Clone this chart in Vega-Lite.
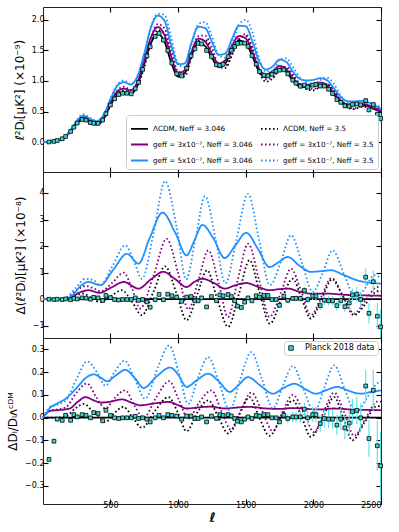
{
"$schema": "https://vega.github.io/schema/vega-lite/v6.json",
"padding": {"left": 6, "top": 5, "right": 5, "bottom": 5},
"spacing": 0,
"bounds": "flush",
"config": {
  "font": "DejaVu Sans",
  "view": {"stroke": "#222", "strokeWidth": 1},
  "axis": {"grid": false, "domain": false, "tickSize": -5, "tickColor": "#000", "tickWidth": 1.1, "labelFontSize": 8, "labelColor": "#000", "labelPadding": 4, "titleFontSize": 12, "titleFontWeight": "normal", "titleColor": "#000", "titlePadding": 5}
},
"resolve": {
  "scale": {"x": "shared", "y": "independent", "color": "shared", "strokeDash": "shared"},
  "axis": {"x": "independent", "y": "independent"},
  "legend": {"color": "independent", "strokeDash": "independent", "fill": "independent"}
},
"datasets": {
  "c1": [
    {"l":2,"a":0,"b":0,"c":0,"d":0,"e":0,"f":0},
    {"l":50,"a":0.003,"b":0.003,"c":0.003,"d":0.003,"e":0.003,"f":0.003},
    {"l":100,"a":0.02,"b":0.02,"c":0.021,"d":0.021,"e":0.021,"f":0.021},
    {"l":150,"a":0.06,"b":0.06,"c":0.062,"d":0.062,"e":0.065,"f":0.064},
    {"l":200,"a":0.16,"b":0.163,"c":0.166,"d":0.171,"e":0.176,"f":0.178},
    {"l":250,"a":0.30,"b":0.312,"c":0.321,"d":0.333,"e":0.339,"f":0.351},
    {"l":300,"a":0.37,"b":0.392,"c":0.402,"d":0.422,"e":0.431,"f":0.457},
    {"l":350,"a":0.32,"b":0.333,"c":0.347,"d":0.362,"e":0.379,"f":0.394},
    {"l":400,"a":0.29,"b":0.294,"c":0.311,"d":0.316,"e":0.344,"f":0.348},
    {"l":450,"a":0.38,"b":0.374,"c":0.405,"d":0.399,"e":0.443,"f":0.437},
    {"l":500,"a":0.60,"b":0.603,"c":0.642,"d":0.639,"e":0.699,"f":0.702},
    {"l":550,"a":0.77,"b":0.789,"c":0.826,"d":0.839,"e":0.916,"f":0.932},
    {"l":600,"a":0.81,"b":0.846,"c":0.875,"d":0.906,"e":0.98,"f":1.008},
    {"l":650,"a":0.79,"b":0.806,"c":0.845,"d":0.853,"e":0.94,"f":0.948},
    {"l":700,"a":0.93,"b":0.916,"c":0.986,"d":0.963,"e":1.079,"f":1.06},
    {"l":750,"a":1.28,"b":1.222,"c":1.349,"d":1.28,"e":1.446,"f":1.389},
    {"l":800,"a":1.62,"b":1.62,"c":1.714,"d":1.701,"e":1.879,"f":1.879},
    {"l":850,"a":1.77,"b":1.832,"c":1.882,"d":1.93,"e":2.07,"f":2.1},
    {"l":900,"a":1.64,"b":1.771,"c":1.75,"d":1.86,"e":1.984,"f":2.08},
    {"l":950,"a":1.30,"b":1.414,"c":1.388,"d":1.50,"e":1.586,"f":1.703},
    {"l":1000,"a":1.07,"b":1.091,"c":1.129,"d":1.156,"e":1.273,"f":1.284},
    {"l":1050,"a":1.13,"b":1.074,"c":1.177,"d":1.141,"e":1.288,"f":1.22},
    {"l":1100,"a":1.42,"b":1.392,"c":1.48,"d":1.463,"e":1.633,"f":1.59},
    {"l":1150,"a":1.62,"b":1.66,"c":1.693,"d":1.733,"e":1.887,"f":1.928},
    {"l":1200,"a":1.57,"b":1.672,"c":1.644,"d":1.743,"e":1.868,"f":1.963},
    {"l":1250,"a":1.38,"b":1.463,"c":1.446,"d":1.546,"e":1.642,"f":1.725},
    {"l":1300,"a":1.23,"b":1.23,"c":1.285,"d":1.267,"e":1.427,"f":1.427},
    {"l":1350,"a":1.29,"b":1.213,"c":1.342,"d":1.251,"e":1.451,"f":1.38},
    {"l":1400,"a":1.52,"b":1.429,"c":1.584,"d":1.444,"e":1.695,"f":1.611},
    {"l":1450,"a":1.66,"b":1.677,"c":1.735,"d":1.71,"e":1.901,"f":1.926},
    {"l":1500,"a":1.62,"b":1.733,"c":1.695,"d":1.766,"e":1.895,"f":2.0},
    {"l":1550,"a":1.40,"b":1.519,"c":1.466,"d":1.547,"e":1.645,"f":1.792},
    {"l":1600,"a":1.15,"b":1.15,"c":1.199,"d":1.19,"e":1.317,"f":1.357},
    {"l":1650,"a":1.06,"b":0.986,"c":1.102,"d":1.028,"e":1.187,"f":1.155},
    {"l":1700,"a":1.12,"b":1.042,"c":1.165,"d":1.053,"e":1.238,"f":1.165},
    {"l":1750,"a":1.20,"b":1.176,"c":1.246,"d":1.2,"e":1.35,"f":1.344},
    {"l":1800,"a":1.15,"b":1.196,"c":1.196,"d":1.231,"e":1.311,"f":1.369},
    {"l":1850,"a":1.00,"b":1.076,"c":1.042,"d":1.1,"e":1.149,"f":1.227},
    {"l":1900,"a":0.91,"b":0.928,"c":0.946,"d":0.956,"e":1.033,"f":1.056},
    {"l":1950,"a":0.90,"b":0.864,"c":0.934,"d":0.90,"e":1.008,"f":0.981},
    {"l":2000,"a":0.92,"b":0.846,"c":0.954,"d":0.869,"e":1.018,"f":0.948},
    {"l":2050,"a":0.94,"b":0.902,"c":0.974,"d":0.931,"e":1.045,"f":1.015},
    {"l":2100,"a":0.90,"b":0.936,"c":0.934,"d":0.954,"e":1.013,"f":1.053},
    {"l":2150,"a":0.78,"b":0.85,"c":0.811,"d":0.866,"e":0.885,"f":0.959},
    {"l":2200,"a":0.66,"b":0.686,"c":0.685,"d":0.70,"e":0.744,"f":0.772},
    {"l":2250,"a":0.60,"b":0.564,"c":0.622,"d":0.588,"e":0.671,"f":0.648},
    {"l":2300,"a":0.60,"b":0.54,"c":0.621,"d":0.552,"e":0.665,"f":0.612},
    {"l":2350,"a":0.61,"b":0.573,"c":0.631,"d":0.586,"e":0.674,"f":0.634},
    {"l":2400,"a":0.59,"b":0.578,"c":0.61,"d":0.59,"e":0.655,"f":0.643},
    {"l":2450,"a":0.54,"b":0.562,"c":0.558,"d":0.572,"e":0.602,"f":0.616},
    {"l":2500,"a":0.49,"b":0.515,"c":0.506,"d":0.524,"e":0.549,"f":0.568}
  ],
  "c2": [
    {"s":"a","l":2,"v":0},{"s":"a","l":2500,"v":0},
    {"s":"b","l":2,"v":0},{"s":"b","l":100,"v":0},{"s":"b","l":169,"v":0.02},{"s":"b","l":240,"v":0.15},{"s":"b","l":300,"v":0.21},{"s":"b","l":360,"v":0.05},{"s":"b","l":420,"v":-0.1},{"s":"b","l":500,"v":0.1},{"s":"b","l":585,"v":0.34},{"s":"b","l":660,"v":-0.1},{"s":"b","l":733,"v":-0.6},{"s":"b","l":820,"v":0.3},{"s":"b","l":904,"v":1.24},{"s":"b","l":990,"v":0.2},{"s":"b","l":1063,"v":-0.79},{"s":"b","l":1140,"v":0.15},{"s":"b","l":1215,"v":1.09},{"s":"b","l":1290,"v":0.0},{"s":"b","l":1370,"v":-1.04},{"s":"b","l":1450,"v":0.2},{"s":"b","l":1529,"v":1.47},{"s":"b","l":1600,"v":0.3},{"s":"b","l":1679,"v":-0.92},{"s":"b","l":1765,"v":0.0},{"s":"b","l":1848,"v":0.77},{"s":"b","l":1915,"v":0.0},{"s":"b","l":1982,"v":-0.73},{"s":"b","l":2060,"v":0.0},{"s":"b","l":2142,"v":0.77},{"s":"b","l":2220,"v":0.1},{"s":"b","l":2301,"v":-0.6},{"s":"b","l":2390,"v":-0.15},{"s":"b","l":2473,"v":0.3},{"s":"b","l":2500,"v":0.3},
    {"s":"c","l":2,"v":0},{"s":"c","l":100,"v":0},{"s":"c","l":200,"v":0.05},{"s":"c","l":270,"v":0.25},{"s":"c","l":340,"v":0.34},{"s":"c","l":420,"v":0.24},{"s":"c","l":510,"v":0.45},{"s":"c","l":598,"v":0.65},{"s":"c","l":708,"v":0.4},{"s":"c","l":800,"v":0.75},{"s":"c","l":892,"v":1.03},{"s":"c","l":980,"v":0.75},{"s":"c","l":1063,"v":0.46},{"s":"c","l":1120,"v":0.65},{"s":"c","l":1180,"v":0.77},{"s":"c","l":1270,"v":0.6},{"s":"c","l":1345,"v":0.4},{"s":"c","l":1420,"v":0.52},{"s":"c","l":1504,"v":0.61},{"s":"c","l":1600,"v":0.45},{"s":"c","l":1676,"v":0.34},{"s":"c","l":1750,"v":0.38},{"s":"c","l":1811,"v":0.4},{"s":"c","l":1900,"v":0.28},{"s":"c","l":1982,"v":0.21},{"s":"c","l":2100,"v":0.21},{"s":"c","l":2250,"v":0.16},{"s":"c","l":2400,"v":0.14},{"s":"c","l":2500,"v":0.13},
    {"s":"d","l":2,"v":0},{"s":"d","l":100,"v":0},{"s":"d","l":169,"v":0.03},{"s":"d","l":240,"v":0.3},{"s":"d","l":316,"v":0.5},{"s":"d","l":380,"v":0.4},{"s":"d","l":430,"v":0.3},{"s":"d","l":510,"v":0.6},{"s":"d","l":598,"v":1.0},{"s":"d","l":660,"v":0.4},{"s":"d","l":720,"v":-0.35},{"s":"d","l":820,"v":0.9},{"s":"d","l":916,"v":2.27},{"s":"d","l":1000,"v":1.0},{"s":"d","l":1076,"v":-0.38},{"s":"d","l":1150,"v":0.7},{"s":"d","l":1224,"v":1.84},{"s":"d","l":1300,"v":0.6},{"s":"d","l":1370,"v":-0.67},{"s":"d","l":1440,"v":0.7},{"s":"d","l":1518,"v":2.09},{"s":"d","l":1600,"v":0.7},{"s":"d","l":1676,"v":-0.67},{"s":"d","l":1760,"v":0.25},{"s":"d","l":1835,"v":1.15},{"s":"d","l":1910,"v":0.3},{"s":"d","l":1982,"v":-0.6},{"s":"d","l":2060,"v":0.1},{"s":"d","l":2130,"v":0.78},{"s":"d","l":2220,"v":0.1},{"s":"d","l":2301,"v":-0.54},{"s":"d","l":2390,"v":0.0},{"s":"d","l":2473,"v":0.46},{"s":"d","l":2500,"v":0.45},
    {"s":"e","l":2,"v":0},{"s":"e","l":100,"v":0},{"s":"e","l":169,"v":0.02},{"s":"e","l":220,"v":0.15},{"s":"e","l":280,"v":0.5},{"s":"e","l":340,"v":0.65},{"s":"e","l":426,"v":0.53},{"s":"e","l":520,"v":1.1},{"s":"e","l":622,"v":1.71},{"s":"e","l":708,"v":1.34},{"s":"e","l":790,"v":2.3},{"s":"e","l":885,"v":3.26},{"s":"e","l":980,"v":2.5},{"s":"e","l":1063,"v":1.65},{"s":"e","l":1120,"v":2.2},{"s":"e","l":1180,"v":2.8},{"s":"e","l":1260,"v":2.3},{"s":"e","l":1345,"v":1.55},{"s":"e","l":1420,"v":2.0},{"s":"e","l":1504,"v":2.5},{"s":"e","l":1590,"v":1.9},{"s":"e","l":1676,"v":1.21},{"s":"e","l":1745,"v":1.4},{"s":"e","l":1811,"v":1.59},{"s":"e","l":1900,"v":1.25},{"s":"e","l":1982,"v":1.03},{"s":"e","l":2060,"v":1.06},{"s":"e","l":2130,"v":1.09},{"s":"e","l":2230,"v":0.9},{"s":"e","l":2326,"v":0.71},{"s":"e","l":2420,"v":0.62},{"s":"e","l":2500,"v":0.59},
    {"s":"f","l":2,"v":0},{"s":"f","l":100,"v":0},{"s":"f","l":169,"v":0.05},{"s":"f","l":240,"v":0.4},{"s":"f","l":316,"v":0.77},{"s":"f","l":380,"v":0.7},{"s":"f","l":426,"v":0.53},{"s":"f","l":510,"v":1.2},{"s":"f","l":610,"v":2.03},{"s":"f","l":670,"v":1.5},{"s":"f","l":733,"v":0.77},{"s":"f","l":820,"v":2.5},{"s":"f","l":904,"v":4.45},{"s":"f","l":990,"v":2.7},{"s":"f","l":1060,"v":0.75},{"s":"f","l":1130,"v":2.3},{"s":"f","l":1199,"v":3.88},{"s":"f","l":1280,"v":2.2},{"s":"f","l":1350,"v":0.6},{"s":"f","l":1430,"v":2.2},{"s":"f","l":1517,"v":3.97},{"s":"f","l":1600,"v":2.2},{"s":"f","l":1679,"v":0.53},{"s":"f","l":1760,"v":1.4},{"s":"f","l":1835,"v":2.41},{"s":"f","l":1920,"v":1.3},{"s":"f","l":1995,"v":0.27},{"s":"f","l":2070,"v":1.0},{"s":"f","l":2142,"v":1.84},{"s":"f","l":2230,"v":0.9},{"s":"f","l":2313,"v":0.02},{"s":"f","l":2380,"v":0.4},{"s":"f","l":2449,"v":0.9},{"s":"f","l":2500,"v":0.8}
  ],
  "c3": [
    {"s":"a","l":2,"v":0},{"s":"a","l":2500,"v":0},
    {"s":"b","l":2,"v":0},{"s":"b","l":50,"v":0},{"s":"b","l":100,"v":0},{"s":"b","l":170,"v":0.005},{"s":"b","l":240,"v":0.04},{"s":"b","l":304,"v":0.06},{"s":"b","l":380,"v":0.02},{"s":"b","l":463,"v":-0.02},{"s":"b","l":530,"v":0.02},{"s":"b","l":597,"v":0.047},{"s":"b","l":665,"v":0.0},{"s":"b","l":733,"v":-0.045},{"s":"b","l":830,"v":0.03},{"s":"b","l":929,"v":0.09},{"s":"b","l":1000,"v":0.02},{"s":"b","l":1063,"v":-0.06},{"s":"b","l":1140,"v":0.02},{"s":"b","l":1223,"v":0.076},{"s":"b","l":1300,"v":0.0},{"s":"b","l":1370,"v":-0.07},{"s":"b","l":1450,"v":0.01},{"s":"b","l":1529,"v":0.09},{"s":"b","l":1600,"v":0.0},{"s":"b","l":1676,"v":-0.08},{"s":"b","l":1760,"v":0.0},{"s":"b","l":1848,"v":0.076},{"s":"b","l":1915,"v":0.0},{"s":"b","l":1982,"v":-0.085},{"s":"b","l":2070,"v":0.0},{"s":"b","l":2154,"v":0.09},{"s":"b","l":2220,"v":0.0},{"s":"b","l":2289,"v":-0.1},{"s":"b","l":2380,"v":-0.02},{"s":"b","l":2470,"v":0.05},{"s":"b","l":2500,"v":0.05},
    {"s":"c","l":2,"v":0},{"s":"c","l":30,"v":0.02},{"s":"c","l":60,"v":0.03},{"s":"c","l":120,"v":0.033},{"s":"c","l":200,"v":0.04},{"s":"c","l":260,"v":0.07},{"s":"c","l":316,"v":0.09},{"s":"c","l":380,"v":0.075},{"s":"c","l":430,"v":0.066},{"s":"c","l":500,"v":0.07},{"s":"c","l":585,"v":0.08},{"s":"c","l":660,"v":0.065},{"s":"c","l":720,"v":0.054},{"s":"c","l":820,"v":0.062},{"s":"c","l":929,"v":0.069},{"s":"c","l":1000,"v":0.055},{"s":"c","l":1063,"v":0.04},{"s":"c","l":1150,"v":0.045},{"s":"c","l":1240,"v":0.048},{"s":"c","l":1350,"v":0.04},{"s":"c","l":1450,"v":0.045},{"s":"c","l":1530,"v":0.047},{"s":"c","l":1650,"v":0.04},{"s":"c","l":1750,"v":0.038},{"s":"c","l":1850,"v":0.042},{"s":"c","l":1950,"v":0.038},{"s":"c","l":2050,"v":0.036},{"s":"c","l":2150,"v":0.04},{"s":"c","l":2300,"v":0.035},{"s":"c","l":2500,"v":0.033},
    {"s":"d","l":2,"v":0},{"s":"d","l":50,"v":0.03},{"s":"d","l":100,"v":0.035},{"s":"d","l":170,"v":0.045},{"s":"d","l":250,"v":0.11},{"s":"d","l":328,"v":0.15},{"s":"d","l":395,"v":0.09},{"s":"d","l":463,"v":0.04},{"s":"d","l":530,"v":0.085},{"s":"d","l":610,"v":0.12},{"s":"d","l":680,"v":0.05},{"s":"d","l":745,"v":0.0},{"s":"d","l":840,"v":0.09},{"s":"d","l":934,"v":0.16},{"s":"d","l":1005,"v":0.08},{"s":"d","l":1076,"v":-0.005},{"s":"d","l":1160,"v":0.07},{"s":"d","l":1247,"v":0.12},{"s":"d","l":1320,"v":0.03},{"s":"d","l":1394,"v":-0.055},{"s":"d","l":1470,"v":0.04},{"s":"d","l":1541,"v":0.11},{"s":"d","l":1620,"v":0.03},{"s":"d","l":1701,"v":-0.06},{"s":"d","l":1775,"v":0.03},{"s":"d","l":1848,"v":0.1},{"s":"d","l":1930,"v":0.02},{"s":"d","l":2007,"v":-0.065},{"s":"d","l":2080,"v":0.03},{"s":"d","l":2154,"v":0.11},{"s":"d","l":2230,"v":0.02},{"s":"d","l":2301,"v":-0.08},{"s":"d","l":2390,"v":0.0},{"s":"d","l":2470,"v":0.07},{"s":"d","l":2500,"v":0.07},
    {"s":"e","l":2,"v":0},{"s":"e","l":30,"v":0.02},{"s":"e","l":50,"v":0.04},{"s":"e","l":100,"v":0.06},{"s":"e","l":170,"v":0.083},{"s":"e","l":250,"v":0.13},{"s":"e","l":320,"v":0.175},{"s":"e","l":377,"v":0.19},{"s":"e","l":430,"v":0.175},{"s":"e","l":475,"v":0.16},{"s":"e","l":540,"v":0.185},{"s":"e","l":610,"v":0.21},{"s":"e","l":680,"v":0.175},{"s":"e","l":745,"v":0.13},{"s":"e","l":840,"v":0.18},{"s":"e","l":941,"v":0.22},{"s":"e","l":1000,"v":0.19},{"s":"e","l":1063,"v":0.135},{"s":"e","l":1140,"v":0.165},{"s":"e","l":1223,"v":0.193},{"s":"e","l":1300,"v":0.16},{"s":"e","l":1382,"v":0.113},{"s":"e","l":1450,"v":0.145},{"s":"e","l":1517,"v":0.178},{"s":"e","l":1610,"v":0.14},{"s":"e","l":1701,"v":0.105},{"s":"e","l":1780,"v":0.13},{"s":"e","l":1860,"v":0.149},{"s":"e","l":1940,"v":0.125},{"s":"e","l":2019,"v":0.105},{"s":"e","l":2100,"v":0.122},{"s":"e","l":2179,"v":0.135},{"s":"e","l":2260,"v":0.118},{"s":"e","l":2350,"v":0.105},{"s":"e","l":2420,"v":0.112},{"s":"e","l":2500,"v":0.12},
    {"s":"f","l":2,"v":0},{"s":"f","l":50,"v":0.045},{"s":"f","l":100,"v":0.055},{"s":"f","l":170,"v":0.075},{"s":"f","l":250,"v":0.17},{"s":"f","l":328,"v":0.247},{"s":"f","l":400,"v":0.2},{"s":"f","l":463,"v":0.14},{"s":"f","l":530,"v":0.2},{"s":"f","l":605,"v":0.25},{"s":"f","l":680,"v":0.17},{"s":"f","l":757,"v":0.083},{"s":"f","l":850,"v":0.22},{"s":"f","l":934,"v":0.317},{"s":"f","l":1005,"v":0.2},{"s":"f","l":1076,"v":0.06},{"s":"f","l":1150,"v":0.18},{"s":"f","l":1223,"v":0.266},{"s":"f","l":1300,"v":0.16},{"s":"f","l":1382,"v":0.032},{"s":"f","l":1460,"v":0.17},{"s":"f","l":1541,"v":0.288},{"s":"f","l":1620,"v":0.17},{"s":"f","l":1701,"v":0.04},{"s":"f","l":1775,"v":0.14},{"s":"f","l":1848,"v":0.227},{"s":"f","l":1930,"v":0.12},{"s":"f","l":2007,"v":0.025},{"s":"f","l":2080,"v":0.13},{"s":"f","l":2154,"v":0.23},{"s":"f","l":2235,"v":0.12},{"s":"f","l":2313,"v":0.018},{"s":"f","l":2400,"v":0.09},{"s":"f","l":2470,"v":0.15},{"s":"f","l":2500,"v":0.16}
  ],
  "obs": [
    {"l":46,"d1":0.002,"d2":0,"d3":-0.184},
    {"l":83,"d1":0.011,"d2":-0.01,"d3":-0.104},
    {"l":107,"d1":0.025,"d2":0,"d3":-0.007},
    {"l":144,"d1":0.054,"d2":-0.01,"d3":-0.012},
    {"l":169,"d1":0.091,"d2":0.01,"d3":0.01},
    {"l":206,"d1":0.173,"d2":-0.02,"d3":-0.012},
    {"l":230,"d1":0.243,"d2":0.03,"d3":0.013},
    {"l":255,"d1":0.311,"d2":0.01,"d3":0.003},
    {"l":291,"d1":0.37,"d2":0.05,"d3":0.013},
    {"l":320,"d1":0.359,"d2":0.04,"d3":0.01},
    {"l":353,"d1":0.318,"d2":0,"d3":-0.001},
    {"l":377,"d1":0.307,"d2":0.07,"d3":0.022},
    {"l":409,"d1":0.305,"d2":0.05,"d3":0.018},
    {"l":443,"d1":0.36,"d2":-0.05,"d3":-0.014},
    {"l":467,"d1":0.464,"d2":0.14,"d3":0.032},
    {"l":500,"d1":0.606,"d2":0.06,"d3":0.01},
    {"l":531,"d1":0.709,"d2":-0.01,"d3":-0.001},
    {"l":561,"d1":0.777,"d2":-0.03,"d3":-0.004},
    {"l":590,"d1":0.799,"d2":-0.01,"d3":-0.001},
    {"l":622,"d1":0.799,"d2":-0.01,"d3":-0.001},
    {"l":654,"d1":0.789,"d2":-0.01,"d3":-0.001},
    {"l":684,"d1":0.875,"d2":0.05,"d3":0.006},
    {"l":708,"d1":0.976,"d2":-0.04,"d3":-0.004},
    {"l":738,"d1":1.189,"d2":-0.01,"d3":-0.001},
    {"l":770,"d1":1.41,"d2":-0.1,"d3":-0.007},
    {"l":794,"d1":1.56,"d2":-0.3,"d3":-0.019},
    {"l":831,"d1":1.728,"d2":-0.02,"d3":-0.001},
    {"l":860,"d1":1.778,"d2":0.18,"d3":0.01},
    {"l":892,"d1":1.668,"d2":-0.02,"d3":-0.001},
    {"l":924,"d1":1.499,"d2":0.19,"d3":0.013},
    {"l":954,"d1":1.293,"d2":0.13,"d3":0.01},
    {"l":990,"d1":1.118,"d2":0.08,"d3":0.007},
    {"l":1027,"d1":1.082,"d2":-0.08,"d3":-0.007},
    {"l":1064,"d1":1.208,"d2":0.08,"d3":0.007},
    {"l":1096,"d1":1.41,"d2":0.1,"d3":0.007},
    {"l":1125,"d1":1.524,"d2":-0.06,"d3":-0.004},
    {"l":1149,"d1":1.614,"d2":-0.06,"d3":-0.004},
    {"l":1174,"d1":1.605,"d2":0.05,"d3":0.003},
    {"l":1211,"d1":1.5,"d2":-0.29,"d3":-0.019},
    {"l":1247,"d1":1.4,"d2":0.1,"d3":0.007},
    {"l":1284,"d1":1.265,"d2":-0.05,"d3":-0.004},
    {"l":1309,"d1":1.256,"d2":0.16,"d3":0.013},
    {"l":1333,"d1":1.273,"d2":0.13,"d3":0.01},
    {"l":1370,"d1":1.398,"d2":0.18,"d3":0.013},
    {"l":1394,"d1":1.5,"d2":0.1,"d3":0.007},
    {"l":1419,"d1":1.564,"d2":-0.06,"d3":-0.004},
    {"l":1439,"d1":1.614,"d2":-0.26,"d3":-0.016},
    {"l":1468,"d1":1.619,"d2":-0.31,"d3":-0.019},
    {"l":1492,"d1":1.619,"d2":-0.11,"d3":-0.007},
    {"l":1517,"d1":1.565,"d2":0.05,"d3":0.003},
    {"l":1546,"d1":1.414,"d2":-0.06,"d3":-0.004},
    {"l":1578,"d1":1.273,"d2":0.13,"d3":0.01},
    {"l":1602,"d1":1.153,"d2":0.08,"d3":0.007},
    {"l":1635,"d1":1.094,"d2":0.14,"d3":0.013},
    {"l":1664,"d1":1.084,"d2":0.14,"d3":0.013},
    {"l":1694,"d1":1.109,"d2":-0.01,"d3":-0.001},
    {"l":1725,"d1":1.159,"d2":-0.01,"d3":-0.001},
    {"l":1750,"d1":1.177,"d2":-0.23,"d3":-0.019},
    {"l":1782,"d1":1.182,"d2":0.12,"d3":0.01},
    {"l":1811,"d1":1.116,"d2":-0.04,"d3":-0.004,"e1":0.022,"e2":0.1,"e3":0.02},
    {"l":1848,"d1":1.013,"d2":0.03,"d3":0.003,"e1":0.022,"e2":0.1,"e3":0.022},
    {"l":1872,"d1":0.963,"d2":0.03,"d3":0.003,"e1":0.023,"e2":0.11,"e3":0.024},
    {"l":1904,"d1":0.913,"d2":0.03,"d3":0.003,"e1":0.024,"e2":0.12,"e3":0.026},
    {"l":1934,"d1":0.933,"d2":0.33,"d3":0.037,"e1":0.025,"e2":0.13,"e3":0.028},
    {"l":1958,"d1":0.899,"d2":-0.01,"d3":-0.001,"e1":0.027,"e2":0.14,"e3":0.03},
    {"l":1995,"d1":0.932,"d2":0.12,"d3":0.013,"e1":0.029,"e2":0.15,"e3":0.032},
    {"l":2019,"d1":0.942,"d2":0.12,"d3":0.013,"e1":0.032,"e2":0.16,"e3":0.034},
    {"l":2051,"d1":0.916,"d2":-0.24,"d3":-0.026,"e1":0.034,"e2":0.17,"e3":0.036},
    {"l":2081,"d1":0.916,"d2":-0.04,"d3":-0.004,"e1":0.035,"e2":0.18,"e3":0.038},
    {"l":2113,"d1":0.864,"d2":-0.06,"d3":-0.007,"e1":0.035,"e2":0.18,"e3":0.04},
    {"l":2142,"d1":0.794,"d2":-0.06,"d3":-0.007,"e1":0.034,"e2":0.18,"e3":0.042},
    {"l":2174,"d1":0.696,"d2":-0.24,"d3":-0.033,"e1":0.032,"e2":0.18,"e3":0.045},
    {"l":2203,"d1":0.65,"d2":-0.05,"d3":-0.007,"e1":0.031,"e2":0.19,"e3":0.048},
    {"l":2233,"d1":0.592,"d2":-0.28,"d3":-0.045,"e1":0.031,"e2":0.2,"e3":0.05},
    {"l":2265,"d1":0.586,"d2":-0.14,"d3":-0.024,"e1":0.032,"e2":0.22,"e3":0.053},
    {"l":2289,"d1":0.616,"d2":0.16,"d3":0.026,"e1":0.034,"e2":0.24,"e3":0.056},
    {"l":2321,"d1":0.624,"d2":0.19,"d3":0.032,"e1":0.036,"e2":0.27,"e3":0.06},
    {"l":2350,"d1":0.609,"d2":-0.01,"d3":-0.001,"e1":0.039,"e2":0.3,"e3":0.064},
    {"l":2387,"d1":0.678,"d2":0.83,"d3":0.139,"e1":0.042,"e2":0.34,"e3":0.07},
    {"l":2411,"d1":0.527,"d2":-0.53,"d3":-0.092,"e1":0.046,"e2":0.38,"e3":0.08},
    {"l":2443,"d1":0.613,"d2":0.66,"d3":0.12,"e1":0.049,"e2":0.42,"e3":0.09},
    {"l":2473,"d1":0.455,"d2":-0.64,"d3":-0.124,"e1":0.057,"e2":0.5,"e3":0.11},
    {"l":2497,"d1":0.386,"d2":-1.04,"d3":-0.212,"e1":0.074,"e2":0.65,"e3":0.15}
  ]
},
"vconcat": [
  {
    "width": 338, "height": 165,
    "resolve": {"axis": {"x": "independent", "y": "independent"}},
    "layer": [
      {
        "data": {"name": "c1"},
        "transform": [{"fold": ["a","b","c","d","e","f"], "as": ["s","v"]}],
        "mark": {"type": "line", "interpolate": "monotone", "strokeWidth": 1.8},
        "encoding": {
          "x": {"field": "l", "type": "quantitative", "scale": {"domain": [2,2500], "nice": false, "zero": false}, "axis": {"orient": "bottom", "values": [500,1000,1500,2000,2500], "labels": false, "title": null}},
          "y": {"field": "v", "type": "quantitative", "scale": {"domain": [-0.49,2.21], "nice": false, "zero": false}, "axis": {"values": [0,0.5,1,1.5,2], "format": ".1f", "title": "ℓ²Dₗ[μK²] (×10⁻⁹)"}},
          "color": {"field": "s", "type": "nominal", "scale": {"domain": ["a","c","e","b","d","f"], "range": ["#000000","#800080","#1e90ff","#000000","#800080","#1e90ff"]},
            "legend": {"orient": "bottom-right", "offset": 3, "title": null, "columns": 2, "symbolType": "stroke", "symbolSize": 289, "symbolStrokeWidth": 1.8, "labelFontSize": 7.2, "labelOffset": 4, "columnPadding": 4, "rowPadding": 2, "padding": 4, "strokeColor": "#cccccc", "fillColor": "white", "cornerRadius": 3,
              "labelExpr": "datum.value=='a'?'ΛCDM, Neff = 3.046':datum.value=='b'?'ΛCDM, Neff = 3.5':datum.value=='c'?'geff = 3x10⁻⁷, Neff = 3.046':datum.value=='d'?'geff = 3x10⁻⁷, Neff = 3.5':datum.value=='e'?'geff = 5x10⁻⁷, Neff = 3.046':'geff = 5x10⁻⁷, Neff = 3.5'"}},
          "strokeDash": {"field": "s", "type": "nominal", "scale": {"domain": ["a","c","e","b","d","f"], "range": [[1,0],[1,0],[1,0],[1.6,2.4],[1.6,2.4],[1.6,2.4]]},
            "legend": {"orient": "bottom-right", "offset": 3, "title": null, "columns": 2, "symbolType": "stroke", "symbolSize": 289, "symbolStrokeWidth": 1.8, "labelFontSize": 7.2, "labelOffset": 4, "columnPadding": 4, "rowPadding": 2, "padding": 4, "strokeColor": "#cccccc", "fillColor": "white", "cornerRadius": 3,
              "labelExpr": "datum.value=='a'?'ΛCDM, Neff = 3.046':datum.value=='b'?'ΛCDM, Neff = 3.5':datum.value=='c'?'geff = 3x10⁻⁷, Neff = 3.046':datum.value=='d'?'geff = 3x10⁻⁷, Neff = 3.5':datum.value=='e'?'geff = 5x10⁻⁷, Neff = 3.046':'geff = 5x10⁻⁷, Neff = 3.5'"}}
        }
      },
      {
        "data": {"name": "obs"},
        "transform": [{"filter": "isValid(datum.e1)"}],
        "mark": {"type": "errorbar", "color": "#5fe3ec", "thickness": 1.2},
        "encoding": {
          "x": {"field": "l", "type": "quantitative", "scale": {"domain": [2,2500], "nice": false, "zero": false}, "axis": null},
          "y": {"field": "d1", "type": "quantitative", "scale": {"domain": [-0.49,2.21], "nice": false, "zero": false}, "axis": null},
          "yError": {"field": "e1"}
        }
      },
      {
        "data": {"name": "obs"},
        "mark": {"type": "square", "size": 14, "filled": true, "fill": "#3cd6cf", "stroke": "#000000", "strokeWidth": 0.8, "opacity": 1},
        "encoding": {
          "x": {"field": "l", "type": "quantitative", "scale": {"domain": [2,2500], "nice": false, "zero": false}, "axis": null},
          "y": {"field": "d1", "type": "quantitative", "scale": {"domain": [-0.49,2.21], "nice": false, "zero": false}, "axis": null}
        }
      },
      {
        "data": {"name": "obs"},
        "mark": {"type": "point", "opacity": 0},
        "encoding": {
          "x": {"field": "l", "type": "quantitative", "scale": {"domain": [2,2500], "nice": false, "zero": false}, "axis": {"orient": "top", "values": [500,1000,1500,2000,2500], "labels": false, "title": null}},
          "y": {"field": "d1", "type": "quantitative", "scale": {"domain": [-0.49,2.21], "nice": false, "zero": false}, "axis": {"orient": "right", "values": [0,0.5,1,1.5,2], "labels": false, "title": null}}
        }
      }
    ]
  },
  {
    "width": 338, "height": 166,
    "resolve": {"axis": {"x": "independent", "y": "independent"}},
    "layer": [
      {
        "data": {"name": "c2"},
        "mark": {"type": "line", "interpolate": "monotone", "strokeWidth": 1.8},
        "encoding": {
          "x": {"field": "l", "type": "quantitative", "scale": {"domain": [2,2500], "nice": false, "zero": false}, "axis": {"orient": "bottom", "values": [500,1000,1500,2000,2500], "labels": false, "title": null}},
          "y": {"field": "v", "type": "quantitative", "scale": {"domain": [-1.46,4.79], "nice": false, "zero": false}, "axis": {"values": [-1,0,1,2,3,4], "format": "d", "title": "Δ(ℓ²Dₗ)[μK²] (×10⁻⁸)"}},
          "color": {"field": "s", "type": "nominal", "scale": {"domain": ["a","c","e","b","d","f"], "range": ["#000000","#800080","#1e90ff","#000000","#800080","#1e90ff"]}, "legend": null},
          "strokeDash": {"field": "s", "type": "nominal", "scale": {"domain": ["a","c","e","b","d","f"], "range": [[1,0],[1,0],[1,0],[1.6,2.4],[1.6,2.4],[1.6,2.4]]}, "legend": null}
        }
      },
      {
        "data": {"name": "obs"},
        "transform": [{"filter": "isValid(datum.e2)"}],
        "mark": {"type": "errorbar", "color": "#5fe3ec", "thickness": 1.2, "clip": true},
        "encoding": {
          "x": {"field": "l", "type": "quantitative", "scale": {"domain": [2,2500], "nice": false, "zero": false}, "axis": null},
          "y": {"field": "d2", "type": "quantitative", "scale": {"domain": [-1.46,4.79], "nice": false, "zero": false}, "axis": null},
          "yError": {"field": "e2"}
        }
      },
      {
        "data": {"name": "obs"},
        "mark": {"type": "square", "size": 14, "filled": true, "fill": "#3cd6cf", "stroke": "#000000", "strokeWidth": 0.8, "opacity": 1},
        "encoding": {
          "x": {"field": "l", "type": "quantitative", "scale": {"domain": [2,2500], "nice": false, "zero": false}, "axis": null},
          "y": {"field": "d2", "type": "quantitative", "scale": {"domain": [-1.46,4.79], "nice": false, "zero": false}, "axis": null}
        }
      },
      {
        "data": {"name": "obs"},
        "mark": {"type": "point", "opacity": 0},
        "encoding": {
          "x": {"field": "l", "type": "quantitative", "scale": {"domain": [2,2500], "nice": false, "zero": false}, "axis": {"orient": "top", "values": [500,1000,1500,2000,2500], "labels": false, "title": null}},
          "y": {"field": "d2", "type": "quantitative", "scale": {"domain": [-1.46,4.79], "nice": false, "zero": false}, "axis": {"orient": "right", "values": [-1,0,1,2,3,4], "labels": false, "title": null}}
        }
      }
    ]
  },
  {
    "width": 338, "height": 166,
    "resolve": {"axis": {"x": "independent", "y": "independent"}},
    "layer": [
      {
        "data": {"name": "c3"},
        "mark": {"type": "line", "interpolate": "monotone", "strokeWidth": 1.8},
        "encoding": {
          "x": {"field": "l", "type": "quantitative", "scale": {"domain": [2,2500], "nice": false, "zero": false}, "axis": {"orient": "bottom", "values": [500,1000,1500,2000,2500], "format": "d", "labelPadding": 2, "title": "ℓ", "titleFontSize": 13, "titleFontStyle": "italic", "titleFontWeight": "bold", "titlePadding": 2}},
          "y": {"field": "v", "type": "quantitative", "scale": {"domain": [-0.38,0.35], "nice": false, "zero": false}, "axis": {"values": [-0.3,-0.2,-0.1,0,0.1,0.2,0.3], "format": ".1f", "title": "ΔDₗ/Dₗᴧᶜᴰᴹ"}},
          "color": {"field": "s", "type": "nominal", "scale": {"domain": ["a","c","e","b","d","f"], "range": ["#000000","#800080","#1e90ff","#000000","#800080","#1e90ff"]}, "legend": null},
          "strokeDash": {"field": "s", "type": "nominal", "scale": {"domain": ["a","c","e","b","d","f"], "range": [[1,0],[1,0],[1,0],[1.6,2.4],[1.6,2.4],[1.6,2.4]]}, "legend": null}
        }
      },
      {
        "data": {"name": "obs"},
        "transform": [{"filter": "isValid(datum.e3)"}],
        "mark": {"type": "errorbar", "color": "#5fe3ec", "thickness": 1.2, "clip": true},
        "encoding": {
          "x": {"field": "l", "type": "quantitative", "scale": {"domain": [2,2500], "nice": false, "zero": false}, "axis": null},
          "y": {"field": "d3", "type": "quantitative", "scale": {"domain": [-0.38,0.35], "nice": false, "zero": false}, "axis": null},
          "yError": {"field": "e3"}
        }
      },
      {
        "data": {"name": "obs"},
        "mark": {"type": "square", "size": 14, "filled": true, "stroke": "#000000", "strokeWidth": 0.8, "opacity": 1},
        "encoding": {
          "x": {"field": "l", "type": "quantitative", "scale": {"domain": [2,2500], "nice": false, "zero": false}, "axis": null},
          "y": {"field": "d3", "type": "quantitative", "scale": {"domain": [-0.38,0.35], "nice": false, "zero": false}, "axis": null},
          "fill": {"datum": "Planck 2018 data", "type": "nominal", "scale": {"range": ["#3cd6cf"]},
            "legend": {"orient": "top-right", "offset": 3, "title": null, "labelFontSize": 8, "symbolType": "square", "symbolSize": 20, "symbolStrokeColor": "#000000", "symbolStrokeWidth": 0.8, "padding": 3, "strokeColor": "#cccccc", "fillColor": "white", "cornerRadius": 3, "labelOffset": 10}}
        }
      },
      {
        "data": {"name": "obs"},
        "mark": {"type": "point", "opacity": 0},
        "encoding": {
          "x": {"field": "l", "type": "quantitative", "scale": {"domain": [2,2500], "nice": false, "zero": false}, "axis": {"orient": "top", "values": [500,1000,1500,2000,2500], "labels": false, "title": null}},
          "y": {"field": "d3", "type": "quantitative", "scale": {"domain": [-0.38,0.35], "nice": false, "zero": false}, "axis": {"orient": "right", "values": [-0.3,-0.2,-0.1,0,0.1,0.2,0.3], "labels": false, "title": null}}
        }
      }
    ]
  }
]
}
